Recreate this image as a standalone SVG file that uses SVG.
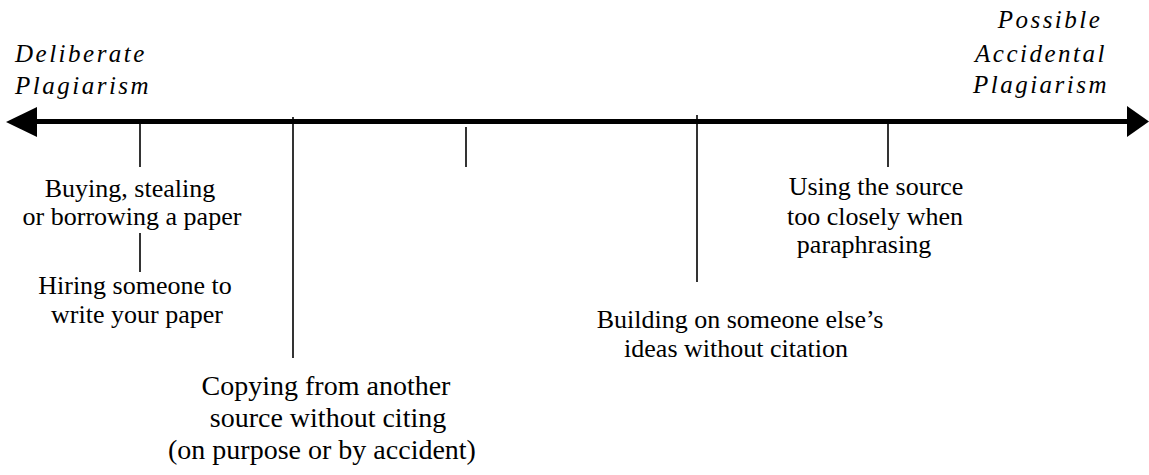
<svg xmlns="http://www.w3.org/2000/svg" width="1149" height="475" viewBox="0 0 1149 475">
<style>
.lbl{font-family:"Liberation Serif","Times New Roman","DejaVu Serif",serif;font-size:26px;fill:#000;text-anchor:middle}
.big{font-size:28px}
.end{font-family:"Liberation Serif","Times New Roman","DejaVu Serif",serif;font-size:25px;font-style:italic;fill:#000;letter-spacing:2.5px}
.tick{stroke:#000;stroke-width:1.6;fill:none}
.axis{stroke:#000;stroke-width:5;fill:none}
</style>
<rect width="1149" height="475" fill="#fff"/>
<g id="connectors">
<line class="axis" x1="30" y1="121.5" x2="1130" y2="121.5"/>
<polygon points="6,122 37,107 37,137" fill="#000"/>
<polygon points="1149,121.5 1127,106 1127,137" fill="#000"/>
<line class="tick" x1="140" y1="124" x2="140" y2="167"/>
<line class="tick" x1="293" y1="117" x2="293" y2="358"/>
<line class="tick" x1="466" y1="127" x2="466" y2="167"/>
<line class="tick" x1="697" y1="115" x2="697" y2="282"/>
<line class="tick" x1="888" y1="124" x2="888" y2="167"/>
<line class="tick" x1="140" y1="233" x2="140" y2="272"/>
</g>
<g id="deliberate">
<text class="end" x="15" y="62">Deliberate</text>
<text class="end" x="15" y="94">Plagiarism</text>
</g>
<g id="accidental">
<text class="end" x="1050" y="28" text-anchor="middle">Possible</text>
<text class="end" x="1041" y="62" text-anchor="middle">Accidental</text>
<text class="end" x="1041" y="93" text-anchor="middle">Plagiarism</text>
</g>
<g id="buying">
<text class="lbl" x="130" y="197">Buying, stealing</text>
<text class="lbl" x="132" y="225">or borrowing a paper</text>
</g>
<g id="hiring">
<text class="lbl" x="135" y="294">Hiring someone to</text>
<text class="lbl" x="137" y="323">write your paper</text>
</g>
<g id="copying">
<text class="lbl big" x="326" y="395">Copying from another</text>
<text class="lbl big" x="328" y="427">source without citing</text>
<text class="lbl big" x="322" y="459">(on purpose or by accident)</text>
</g>
<g id="building">
<text class="lbl" x="740" y="328">Building on someone else’s</text>
<text class="lbl" x="736" y="357">ideas without citation</text>
</g>
<g id="using">
<text class="lbl" x="876" y="195">Using the source</text>
<text class="lbl" x="875" y="225">too closely when</text>
<text class="lbl" x="864" y="253">paraphrasing</text>
</g>
</svg>
